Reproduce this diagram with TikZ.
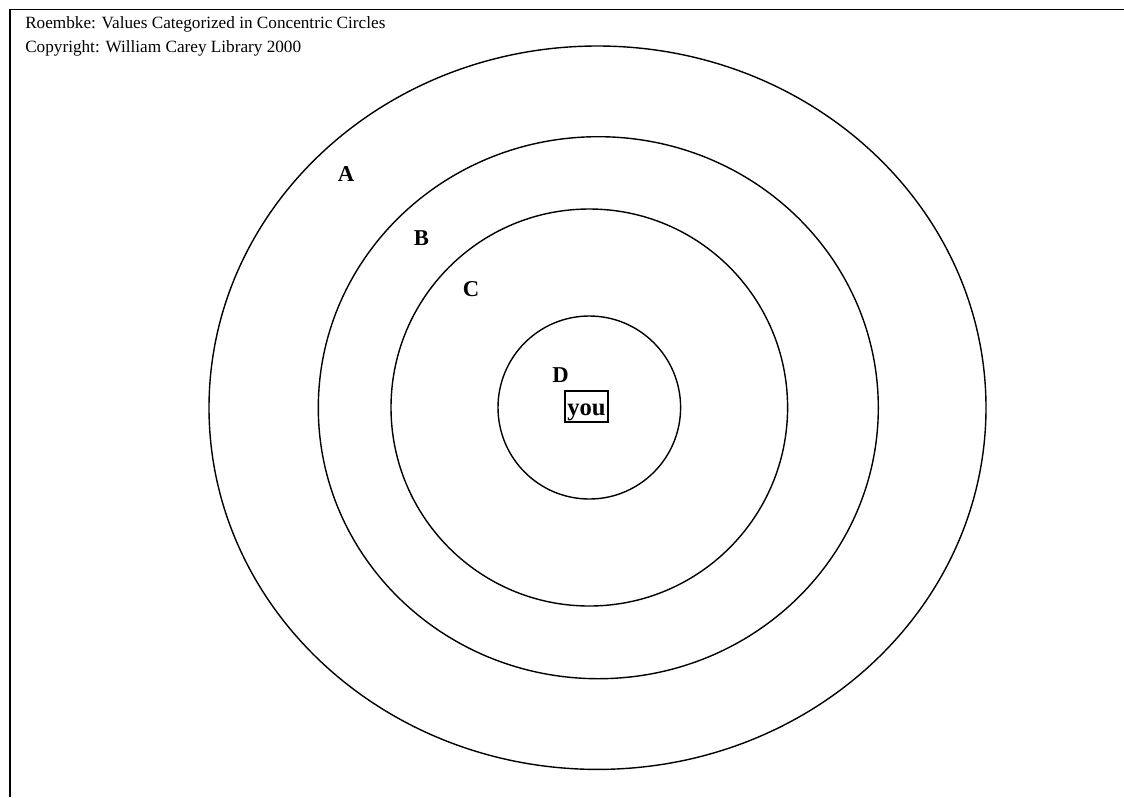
\documentclass[tikz,border=0pt]{standalone}
\usepackage{fontspec}
\setmainfont{Liberation Serif}
\begin{document}
\begin{tikzpicture}[x=0.75pt,y=-0.75pt,
  ring/.style={line width=1.05pt},
  lbl/.style={font=\fontsize{17}{19}\selectfont\bfseries, inner sep=0pt},
  caption/.style={font=\fontsize{12.9}{15}\selectfont, anchor=base west, inner sep=0pt},
  youbox/.style={draw, line width=1pt, font=\fontsize{18.5}{21}\selectfont\bfseries, inner sep=0pt,
    text height=12.75pt, text depth=0pt, minimum width=32.25pt, minimum height=23.25pt}]
\useasboundingbox (0,0) rectangle (1124,797);
% frame
\draw[line width=1.2pt] (10,797) -- (10,9.5) -- (1124,9.5);
% captions
\node[caption] (t1) at (25,28) {Roembke: Values Categorized in Concentric Circles};
\node[caption] (t2) at (25,52) {Copyright: William Carey Library 2000};
% rings
\draw[ring] (597.5,407.7) ellipse [x radius=388.5, y radius=361.7];
\draw[ring] (598.3,407.7) ellipse [x radius=280, y radius=271];
\draw[ring] (589.3,407.5) ellipse [x radius=198.3, y radius=198.5];
\draw[ring] (589.3,407.5) ellipse [x radius=91.3, y radius=91.5];
% labels
\node[lbl] (A) at (346,174) {A};
\node[lbl] (B) at (421.5,238.5) {B};
\node[lbl] (C) at (471,289.5) {C};
\node[lbl] (D) at (560.5,375) {D};
\node[youbox] (you) at (586.5,406.5) {you};
\end{tikzpicture}
\end{document}
